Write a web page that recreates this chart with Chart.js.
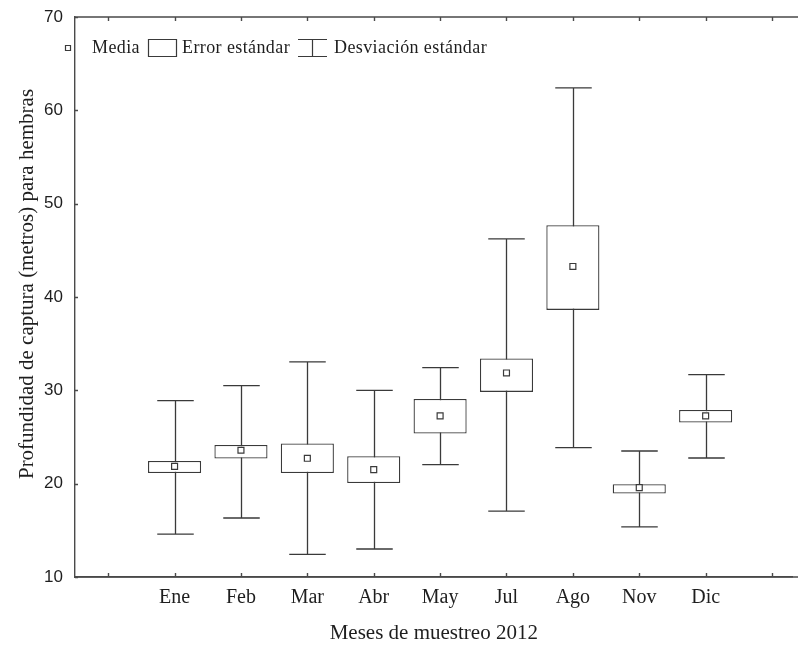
<!DOCTYPE html>
<html>
<head>
<meta charset="utf-8">
<script src="https://cdn.jsdelivr.net/npm/chart.js@4.4.1/dist/chart.umd.min.js"></script>
<style>
  html, body { margin: 0; padding: 0; background: #fff; }
  #wrap { width: 798px; height: 647px; overflow: hidden; }
</style>
</head>
<body>
<div id="wrap"><canvas id="c" width="798" height="647"></canvas></div>
<script>
// Tick labels along the month axis (blank slots at both ends)
const xLabels = ['', 'Ene', 'Feb', 'Mar', 'Abr', 'May', 'Jul', 'Ago', 'Nov', 'Dic', ''];
// Months sampled in 2012
const months = ['Ene', 'Feb', 'Mar', 'Abr', 'May', 'Jul', 'Ago', 'Nov', 'Dic'];
// Mean capture depth (m)
const media = [21.86, 23.58, 22.72, 21.5, 27.26, 31.86, 43.27, 19.58, 27.26];
// Mean ± standard error
const seLow  = [21.15, 22.69, 21.15, 20.06, 25.37, 29.83, 38.62, 18.94, 26.55];
const seHigh = [22.43, 24.15, 24.30, 22.94, 29.08, 33.41, 47.69, 19.94, 27.90];
// Mean ± standard deviation
const sdLow  = [14.6, 16.32, 12.43, 13.0, 22.05, 17.05, 23.87, 15.36, 22.75];
const sdHigh = [28.9, 30.5, 33.04, 30.0, 32.44, 46.23, 62.41, 23.5, 31.69];
// Depth axis ticks
const yTicks = [10, 20, 30, 40, 50, 60, 70];
const yTitle = 'Profundidad de captura (metros) para hembras';

const LINE = '#3a3a3a';
const AXIS = '#4a4a4a';
const TXT = '#1e1e1e';
const SERIF = "'Liberation Serif', 'Times New Roman', serif";
const SANS = "'Liberation Sans', Arial, sans-serif";

const xPos = months.map((m) => xLabels.indexOf(m));

// Standard-deviation whiskers drawn under the boxes
const whiskers = {
  id: 'whiskers',
  beforeDatasetsDraw(chart) {
    const {ctx, scales: {x, y}} = chart;
    const half = (x.getPixelForValue(1) - x.getPixelForValue(0)) * 0.275;
    ctx.save();
    ctx.strokeStyle = LINE;
    ctx.lineWidth = 1.3;
    xPos.forEach((xi, i) => {
      const px = Math.round(x.getPixelForValue(xi)) + 0.5;
      const pTop = y.getPixelForValue(sdHigh[i]);
      const pBot = y.getPixelForValue(sdLow[i]);
      ctx.beginPath();
      ctx.moveTo(px, pTop); ctx.lineTo(px, pBot);
      ctx.moveTo(px - half, pTop); ctx.lineTo(px + half, pTop);
      ctx.moveTo(px - half, pBot); ctx.lineTo(px + half, pBot);
      ctx.stroke();
    });
    ctx.restore();
  }
};

// Frame: top edge, inward tick marks, y title and the in-plot legend
const frame = {
  id: 'frame',
  afterDraw(chart) {
    const {ctx, chartArea: a, scales: {x, y}} = chart;
    ctx.save();
    ctx.strokeStyle = AXIS;
    ctx.lineWidth = 1.4;
    ctx.beginPath();
    ctx.moveTo(a.left, a.top); ctx.lineTo(chart.width, a.top);
    ctx.moveTo(a.left, a.bottom); ctx.lineTo(chart.width, a.bottom);
    x.ticks.forEach((t) => {
      const px = Math.round(x.getPixelForValue(t.value)) + 0.5;
      ctx.moveTo(px, a.bottom); ctx.lineTo(px, a.bottom - 4);
      ctx.moveTo(px, a.top); ctx.lineTo(px, a.top + 4);
    });
    y.ticks.forEach((t) => {
      const py = Math.round(y.getPixelForValue(t.value)) + 0.5;
      ctx.moveTo(a.left, py); ctx.lineTo(a.left + 3, py);
    });
    ctx.stroke();

    // vertical axis title
    ctx.save();
    ctx.translate(a.left - 48, a.top + 267);
    ctx.rotate(-Math.PI / 2);
    ctx.fillStyle = TXT;
    ctx.font = '21px ' + SERIF;
    ctx.textAlign = 'center';
    ctx.textBaseline = 'middle';
    ctx.fillText(yTitle, 0, 0);
    ctx.restore();

    // legend
    const ly = a.top + 31;
    ctx.lineWidth = 1.2;
    ctx.strokeStyle = LINE;
    ctx.fillStyle = '#fff';
    ctx.beginPath();
    ctx.rect(a.left - 9.5, ly - 2.5, 5, 5);
    ctx.fill(); ctx.stroke();

    ctx.beginPath();
    ctx.rect(a.left + 73.5, ly - 8.5, 28, 17);
    ctx.stroke();

    ctx.beginPath();
    ctx.moveTo(a.left + 223, ly - 8.5); ctx.lineTo(a.left + 252, ly - 8.5);
    ctx.moveTo(a.left + 237.5, ly - 8.5); ctx.lineTo(a.left + 237.5, ly + 8.5);
    ctx.moveTo(a.left + 223, ly + 8.5); ctx.lineTo(a.left + 252, ly + 8.5);
    ctx.stroke();

    ctx.fillStyle = TXT;
    ctx.font = '18px ' + SERIF;
    ctx.textBaseline = 'middle';
    ctx.textAlign = 'left';
    if ('letterSpacing' in ctx) ctx.letterSpacing = '0.4px';
    ctx.fillText('Media', a.left + 17, ly);
    ctx.fillText('Error estándar', a.left + 107, ly);
    ctx.fillText('Desviación estándar', a.left + 259, ly);
    ctx.restore();
  }
};

new Chart(document.getElementById('c'), {
  type: 'bar',
  data: {
    datasets: [
      {
        type: 'scatter',
        label: 'Media',
        data: xPos.map((xi, i) => ({x: xi, y: media[i]})),
        pointStyle: 'rect',
        pointRadius: 4.2,
        pointBackgroundColor: '#fff',
        pointBorderColor: LINE,
        pointBorderWidth: 1.2,
        order: 0
      },
      {
        label: 'Error estándar',
        data: xPos.map((xi, i) => ({x: xi, y: [seLow[i], seHigh[i]]})),
        backgroundColor: '#fff',
        borderColor: LINE,
        borderWidth: 1.3,
        borderSkipped: false,
        categoryPercentage: 1,
        barPercentage: 0.8,
        order: 1
      }
    ]
  },
  options: {
    responsive: false,
    animation: false,
    events: [],
    layout: { padding: { top: 17, right: 0, bottom: 0, left: 0 } },
    plugins: { legend: { display: false }, tooltip: { enabled: false } },
    scales: {
      x: {
        type: 'linear',
        offset: false,
        min: -0.5,
        max: 10.31,
        afterBuildTicks: (s) => { s.ticks = xLabels.map((_, i) => ({value: i})); },
        afterFit: (s) => { s.height = 70; s.paddingLeft = 0; s.paddingRight = 0; },
        grid: { drawOnChartArea: false, drawTicks: false, offset: false },
        border: { display: true, color: AXIS, width: 1.4 },
        ticks: {
          autoSkip: false,
          maxRotation: 0,
          padding: 9,
          color: TXT,
          font: { family: SERIF, size: 20 },
          callback: (v) => xLabels[v] ?? ''
        },
        title: {
          display: true,
          text: 'Meses de muestreo 2012',
          color: TXT,
          font: { family: SERIF, size: 21 },
          padding: { top: 0, bottom: 1 }
        }
      },
      y: {
        min: 10,
        max: 70,
        afterBuildTicks: (s) => { s.ticks = yTicks.map((v) => ({value: v})); },
        afterFit: (s) => { s.width = 75; s.paddingTop = 0; s.paddingBottom = 0; },
        grid: { drawOnChartArea: false, drawTicks: false },
        border: { display: true, color: AXIS, width: 1.4 },
        ticks: {
          padding: 12,
          color: TXT,
          font: { family: SANS, size: 17 }
        }
      }
    }
  },
  plugins: [whiskers, frame]
});
</script>
</body>
</html>
